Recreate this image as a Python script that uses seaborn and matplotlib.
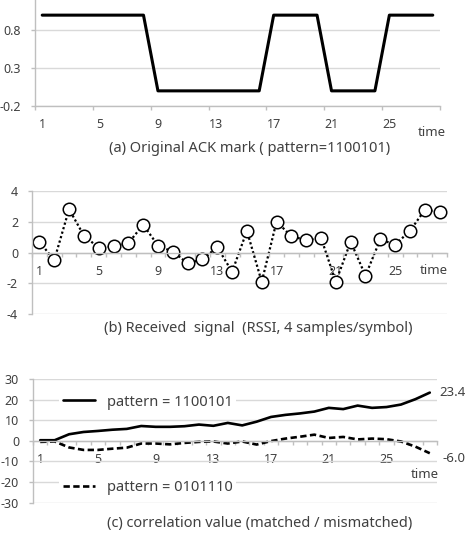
import matplotlib
matplotlib.use("Agg")
import matplotlib.pyplot as plt
import seaborn as sns
import pandas as pd

# ---------------- data ----------------
time = list(range(1, 29))
time_labels = ["1", "5", "9", "13", "17", "21", "25"]
time_label_pos = [1, 5, 9, 13, 17, 21, 25]

ack_mark = [1, 1, 1, 1, 1, 1, 1, 1, 0, 0, 0, 0, 0, 0, 0, 0,
            1, 1, 1, 1, 0, 0, 0, 0, 1, 1, 1, 1]

rssi = [0.7, -0.5, 2.8, 1.1, 0.3, 0.4, 0.6, 1.8, 0.45, 0.05, -0.7, -0.45,
        0.35, -1.25, 1.4, -1.9, 2.0, 1.05, 0.8, 0.95, -1.9, 0.7, -1.5, 0.85,
        0.5, 1.4, 2.75, 2.65]

corr_matched = [0.3, 0.3, 3.2, 4.3, 4.8, 5.4, 5.8, 7.2, 6.8, 6.8, 7.1, 7.9,
                7.3, 8.7, 7.5, 9.3, 11.6, 12.6, 13.3, 14.2, 16.0, 15.4, 17.1,
                16.0, 16.4, 17.6, 20.2, 23.4]
corr_mismatched = [-0.5, -0.3, -3.2, -4.4, -4.4, -3.8, -3.3, -1.3, -1.3, -1.7,
                   -1.0, -0.5, -0.3, -1.3, -0.3, -1.8, -0.1, 1.1, 2.0, 3.0,
                   1.4, 1.9, 0.7, 1.1, 0.8, -0.3, -2.8, -6.0]

label_matched = "pattern = 1100101"
label_mismatched = "pattern = 0101110"

title_a = "(a) Original ACK mark ( pattern=1100101)"
title_b = "(b) Received  signal  (RSSI, 4 samples/symbol)"
title_c = "(c) correlation value (matched / mismatched)"

# ---------------- style ----------------
sns.set_theme(style="white")
plt.rcParams["font.family"] = ["Noto Sans", "DejaVu Sans"]
plt.rcParams["axes.unicode_minus"] = False

GRID = "#d9d9d9"
AXC = "#bfbfbf"
TXT = "#404040"

W, H = 467, 547
fig = plt.figure(figsize=(W / 100, H / 100), dpi=100)
fig.patch.set_facecolor("white")


def px_axes(l, r, top, bot):
    return fig.add_axes([l / W, 1 - bot / H, (r - l) / W, (bot - top) / H])


def ftext(x, y, s, **kw):
    fig.text(x / W, 1 - y / H, s, **kw)


def style(ax, ylim, yticks, ylabels, zero_axis, every):
    ax.set_xlim(0.5, 28.5)
    ax.set_ylim(*ylim)
    ax.set_facecolor("white")
    ax.set_yticks(yticks)
    ax.set_yticklabels(ylabels)
    ax.yaxis.grid(True, color=GRID, lw=1)
    ax.xaxis.grid(False)
    ax.set_axisbelow(True)
    for s in ["top", "right"]:
        ax.spines[s].set_visible(False)
    ax.spines["left"].set_color(AXC)
    ax.spines["bottom"].set_color(AXC)
    ax.spines["left"].set_linewidth(1)
    ax.spines["bottom"].set_linewidth(1)
    if zero_axis:
        ax.spines["bottom"].set_position(("data", 0))
    ax.set_xticks(time_label_pos)
    ax.set_xticklabels(time_labels)
    ax.tick_params(axis="x", which="major", length=0, pad=9,
                   labelsize=9, labelcolor=TXT)
    ax.set_xticks([0.5 + i for i in range(0, 29, every)], minor=True)
    ax.tick_params(axis="x", which="minor", length=3, width=1, color=AXC,
                   direction="out", bottom=True)
    ax.tick_params(axis="y", length=3, width=1, color=AXC, left=True,
                   labelsize=9, labelcolor=TXT, pad=7)
    ax.set_xlabel("")
    ax.set_ylabel("")


# ---------------- (a) ----------------
axA = px_axes(35, 440, 0, 106)
sns.lineplot(x=time, y=ack_mark, ax=axA, color="black", lw=2.2)
style(axA, (-0.2, 1.2), [-0.2, 0.3, 0.8], ["-0.2", "0.3", "0.8"], False, 4)

# ---------------- (b) ----------------
axB = px_axes(32, 447, 190.7, 314.3)
sns.lineplot(x=time, y=rssi, ax=axB, color="black", lw=1.6,
             linestyle=(0, (1, 1.1)), marker="o", markersize=9,
             markerfacecolor="white", markeredgecolor="black",
             markeredgewidth=1.1)
style(axB, (-4, 4), [-4, -2, 0, 2, 4], ["-4", "-2", "0", "2", "4"], True, 1)

# ---------------- (c) ----------------
axC = px_axes(33, 437, 379, 502.7)
df_c = pd.DataFrame({"time": time, "matched": corr_matched,
                     "mismatched": corr_mismatched})
sns.lineplot(data=df_c, x="time", y="matched", ax=axC, color="black", lw=1.9)
sns.lineplot(data=df_c, x="time", y="mismatched", ax=axC, color="black",
             lw=1.9, linestyle=(0, (2.4, 1.3)))
style(axC, (-30, 30), [-30, -20, -10, 0, 10, 20, 30],
      ["-30", "-20", "-10", "0", "10", "20", "30"], True, 1)
lines = axC.get_lines()
h_match, h_mis = lines[0], lines[1]

leg_kw = dict(loc="center left", frameon=True, facecolor="white",
              edgecolor="none", framealpha=1, fancybox=False, fontsize=10.5,
              handlelength=2.2, handletextpad=0.8, borderpad=0.25,
              borderaxespad=0, labelcolor=TXT)
leg1 = axC.legend([h_match], [label_matched], bbox_to_anchor=(0.065, 0.814),
                  **leg_kw)
axC.add_artist(leg1)
leg2 = axC.legend([h_mis], [label_mismatched], bbox_to_anchor=(0.065, 0.126),
                  **leg_kw)

axC.annotate(f"{corr_matched[-1]:.1f}", xy=(time[-1], corr_matched[-1]),
             xytext=(7, 0), textcoords="offset points", ha="left",
             va="center", fontsize=9.5, color=TXT, annotation_clip=False)
axC.annotate(f"{corr_mismatched[-1]:.1f}", xy=(time[-1], corr_mismatched[-1]),
             xytext=(9, -4), textcoords="offset points", ha="left",
             va="center", fontsize=9.5, color=TXT, annotation_clip=False)

# ---------------- texts ----------------
ftext(446, 132, "time", ha="right", va="center", fontsize=9.5, color=TXT)
ftext(448, 271, "time", ha="right", va="center", fontsize=9.5, color=TXT)
ftext(439, 474, "time", ha="right", va="center", fontsize=9.5, color=TXT)

ftext(250, 148, title_a, ha="center", va="center", fontsize=10.5, color=TXT)
ftext(258, 328, title_b, ha="center", va="center", fontsize=10.5, color=TXT)
ftext(260, 524, title_c, ha="center", va="center", fontsize=10.5, color=TXT)

fig.savefig("out.png", dpi=100)
